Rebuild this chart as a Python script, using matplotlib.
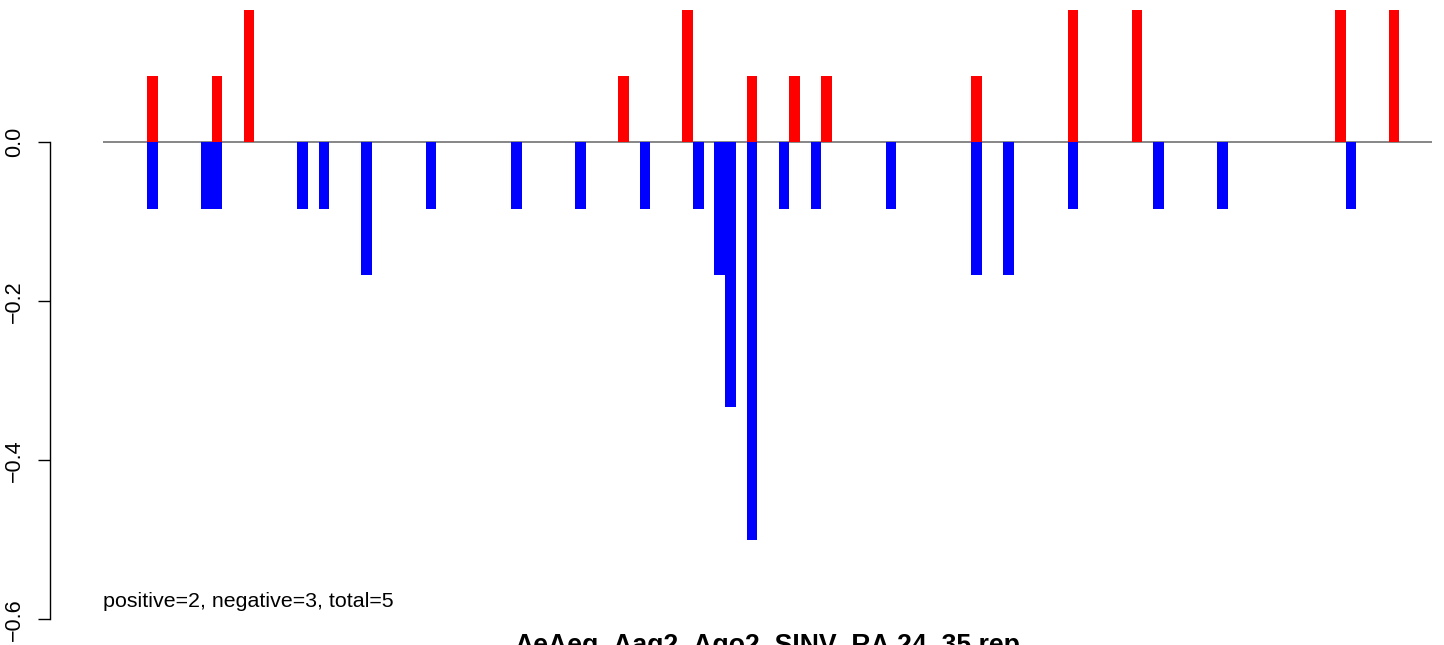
import matplotlib
matplotlib.use("Agg")
import matplotlib.pyplot as plt

plt.rcParams['font.family'] = ['Liberation Sans', 'DejaVu Sans']

# bar slot index -> value
pos_idx = [0, 6, 9, 44, 50, 56, 60, 63, 77, 86, 92, 111, 116]
pos_val = [0.0833, 0.0833, 0.1667, 0.0833, 0.1667, 0.0833, 0.0833, 0.0833,
           0.0833, 0.1667, 0.1667, 0.1667, 0.1667]
neg_idx = [0, 5, 6, 14, 16, 20, 26, 34, 40, 46, 51, 53, 54, 56, 59, 62, 69,
           77, 80, 86, 94, 100, 112]
neg_val = [-0.0833, -0.0833, -0.0833, -0.0833, -0.0833, -0.1667, -0.0833,
           -0.0833, -0.0833, -0.0833, -0.0833, -0.1667, -0.3333, -0.5,
           -0.0833, -0.0833, -0.0833, -0.1667, -0.1667, -0.0833, -0.0833,
           -0.0833, -0.0833]
yticks = [0.0, -0.2, -0.4, -0.6]
yticklabels = ["0.0", "\u22120.2", "\u22120.4", "\u22120.6"]
summary = "positive=2, negative=3, total=5"
title = "AeAeg_Aag2_Ago2_SINV_RA.24_35.rep"

W, H = 1444, 645
fig = plt.figure(figsize=(W / 100, H / 100), dpi=100)
left_px, right_px, top_px, bot_px = 103, 1432, 0, 619.3
ax = fig.add_axes([left_px / W, (H - bot_px) / H, (right_px - left_px) / W, (bot_px - top_px) / H])

ax.bar(pos_idx, pos_val, width=1, align='edge', color='#FF0000', linewidth=0)
ax.bar(neg_idx, neg_val, width=1, align='edge', color='#0000FF', linewidth=0)
ax.axhline(0, color='#666666', linewidth=1.1, zorder=0)

ax.set_xlim(-4.14, 120.06)
ax.set_ylim(-0.6, 0.179)

for s in ['top', 'right', 'bottom']:
    ax.spines[s].set_visible(False)
ax.spines['left'].set_position(('outward', 38))
ax.spines['left'].set_bounds(-0.6, 0.0)
ax.spines['left'].set_linewidth(1.0)
ax.set_xticks([])
ax.set_yticks(yticks)
ax.set_yticklabels(yticklabels, rotation=90, va='center', fontsize=15.5)
ax.tick_params(axis='y', length=9, width=1.0, pad=9)

ax.text(-4.14, -0.5845, summary, fontsize=15.4, ha='left', va='baseline')
fig.text(767.5 / W, (H - 653) / H, title, fontsize=19.2, fontweight='bold',
         ha='center', va='baseline')

fig.savefig("out.png", dpi=100)
